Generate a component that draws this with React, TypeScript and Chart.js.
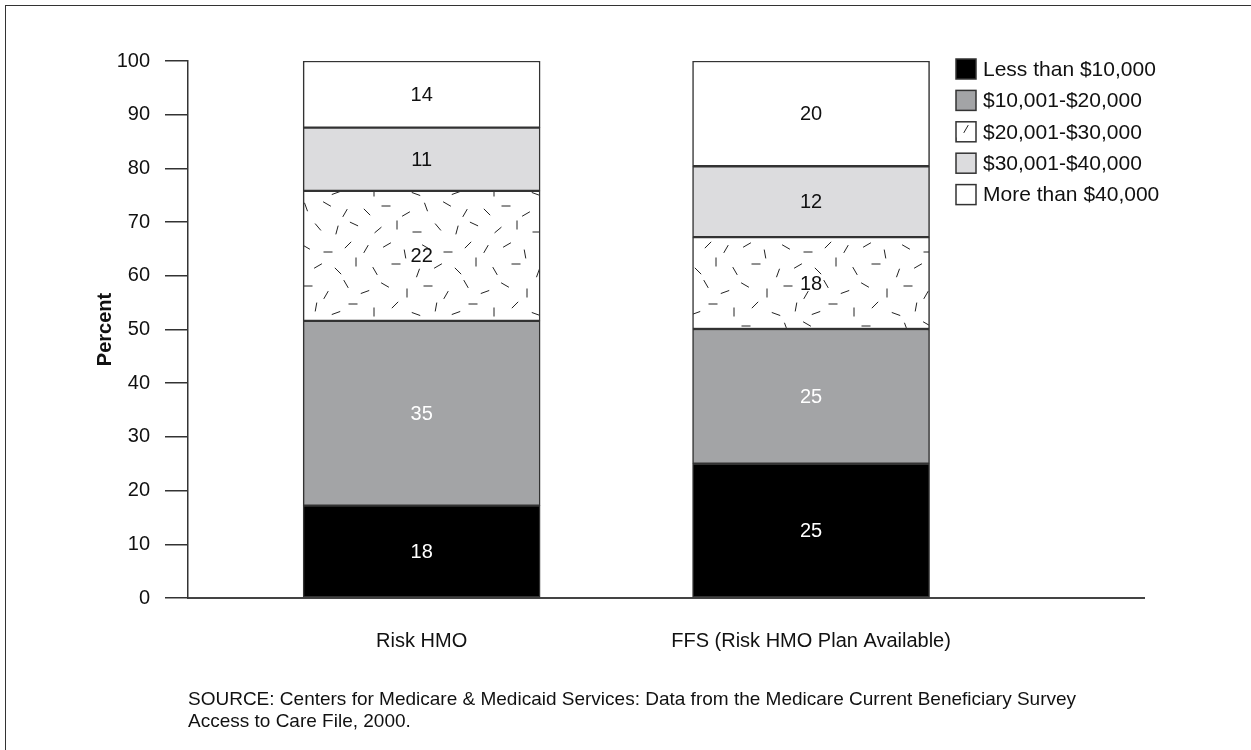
import React, { useEffect, useRef } from "react";
import { Chart, registerables } from "chart.js";

Chart.register(...registerables);

// ---------- data ----------
const categories = ["Risk HMO", "FFS (Risk HMO Plan Available)"];
const seriesNames = [
  "Less than $10,000",
  "$10,001-$20,000",
  "$20,001-$30,000",
  "$30,001-$40,000",
  "More than $40,000",
];
// segment heights (percent) as drawn in the picture: [Risk HMO, FFS]
const lessThan10k = [17.2, 25.0];
const from10kTo20k = [34.4, 25.1];
const from20kTo30k = [24.2, 17.1];
const from30kTo40k = [11.8, 13.2];
const moreThan40k = [12.4, 19.6];
// printed value labels
const lessThan10kLabels = ["18", "25"];
const from10kTo20kLabels = ["35", "25"];
const from20kTo30kLabels = ["22", "18"];
const from30kTo40kLabels = ["11", "12"];
const moreThan40kLabels = ["14", "20"];

const yTickValues = [0, 10, 20, 30, 40, 50, 60, 70, 80, 90, 100];
const yAxisTitle = "Percent";
const sourceLines = [
  "SOURCE: Centers for Medicare & Medicaid Services: Data from the Medicare Current Beneficiary Survey",
  "Access to Care File, 2000.",
];

const FONT = '"Liberation Sans", Arial, Helvetica, sans-serif';

// confetti dash pattern tile (decorative): [cx, cy, angleDeg]
const dashTile: [number, number, number][] = [
  [6, 9, 120], [27, 5, 150], [45, 14, 80], [66, 7, 30], [88, 12, 0], [108, 5, 135],
  [15, 31, 60], [36, 24, 0], [58, 33, 110], [78, 26, 150], [98, 31, 45], [116, 22, 90],
  [5, 52, 160], [25, 45, 30], [47, 53, 90], [68, 46, 0], [86, 55, 120], [106, 44, 60],
  [14, 72, 90], [35, 65, 135], [56, 74, 20], [76, 67, 100], [96, 73, 160], [113, 64, 0],
  [7, 92, 45], [26, 86, 0], [46, 94, 150], [66, 87, 70], [87, 84, 30], [105, 93, 120],
  [18, 110, 140], [37, 105, 90], [57, 112, 0], [78, 107, 50], [97, 110, 105], [114, 104, 25],
];

function makePattern(): CanvasPattern | string {
  const c = document.createElement("canvas");
  c.width = 120;
  c.height = 120;
  const g = c.getContext("2d");
  if (!g) return "#ffffff";
  g.fillStyle = "#ffffff";
  g.fillRect(0, 0, 120, 120);
  g.strokeStyle = "#222222";
  g.lineWidth = 1;
  const half = 4.5;
  for (const [cx, cy, a] of dashTile) {
    const r = (a * Math.PI) / 180;
    const dx = Math.cos(r) * half;
    const dy = Math.sin(r) * half;
    g.beginPath();
    g.moveTo(cx - dx, cy - dy);
    g.lineTo(cx + dx, cy + dy);
    g.stroke();
  }
  const p = g.createPattern(c, "repeat");
  return p || "#ffffff";
}

const valueLabelPlugin = {
  id: "valueLabels",
  afterDatasetsDraw(chart: any) {
    const ctx = chart.ctx;
    ctx.save();
    ctx.font = `20px ${FONT}`;
    ctx.textAlign = "center";
    ctx.textBaseline = "middle";
    chart.data.datasets.forEach((ds: any, i: number) => {
      const meta = chart.getDatasetMeta(i);
      meta.data.forEach((bar: any, j: number) => {
        const { x, y, base } = bar.getProps(["x", "y", "base"], true);
        ctx.fillStyle = ds.labelColor;
        ctx.fillText(ds.valueLabels[j], x, (y + base) / 2 + 1);
      });
    });
    ctx.restore();
  },
};

const legendPlugin = {
  id: "boxLegend",
  afterDraw(chart: any) {
    const ctx = chart.ctx;
    ctx.save();
    chart.data.datasets.forEach((ds: any, i: number) => {
      const x = 956;
      const y = 59 + i * 31.4;
      ctx.fillStyle = ds.backgroundColor;
      ctx.fillRect(x, y, 20, 20);
      ctx.strokeStyle = "#333333";
      ctx.lineWidth = 1.5;
      ctx.strokeRect(x, y, 20, 20);
      ctx.fillStyle = "#111111";
      ctx.font = `21px ${FONT}`;
      ctx.textAlign = "left";
      ctx.textBaseline = "middle";
      ctx.fillText(ds.label, 983, y + 11);
    });
    ctx.restore();
  },
};

export default function App() {
  const canvasRef = useRef<HTMLCanvasElement | null>(null);

  useEffect(() => {
    const canvas = canvasRef.current;
    if (!canvas) return;
    const pattern = makePattern();
    const seriesValues = [lessThan10k, from10kTo20k, from20kTo30k, from30kTo40k, moreThan40k];
    const seriesLabels = [
      lessThan10kLabels,
      from10kTo20kLabels,
      from20kTo30kLabels,
      from30kTo40kLabels,
      moreThan40kLabels,
    ];
    const fills = ["#000000", "#a3a4a6", pattern, "#dcdcde", "#ffffff"];
    const labelColors = ["#ffffff", "#ffffff", "#111111", "#111111", "#111111"];

    const datasets = seriesNames.map((name, s) => ({
      label: name,
      data: seriesValues[s].map((v, i) => ({ x: i, y: v })),
      backgroundColor: fills[s],
      borderColor: "#333333",
      borderWidth: 1.5,
      borderSkipped: false,
      barThickness: 237,
      valueLabels: seriesLabels[s],
      labelColor: labelColors[s],
    }));

    const chart = new Chart(canvas, {
      type: "bar",
      data: { datasets: datasets as any },
      options: {
        animation: false,
        responsive: false,
        events: [],
        layout: { padding: { left: 0, top: 61, right: 107, bottom: 0 } },
        plugins: {
          legend: { display: false },
          tooltip: { enabled: false },
          title: { display: false },
        },
        scales: {
          x: {
            type: "linear",
            stacked: true,
            offset: false,
            min: -0.6,
            max: 1.855,
            grid: { display: false, drawTicks: false },
            border: { display: true, color: "#444444", width: 2 },
            afterBuildTicks: (scale: any) => {
              scale.ticks = categories.map((_, i) => ({ value: i }));
            },
            afterFit: (scale: any) => {
              scale.height = 152;
            },
            ticks: {
              autoSkip: false,
              maxRotation: 0,
              padding: 31,
              color: "#111111",
              font: { family: FONT, size: 20 },
              callback: (v: any) => categories[v as number] ?? "",
            },
          },
          y: {
            stacked: true,
            min: 0,
            max: 100,
            afterBuildTicks: (scale: any) => {
              scale.ticks = yTickValues.map((v) => ({ value: v }));
            },
            afterFit: (scale: any) => {
              scale.width = 188;
            },
            grid: {
              display: true,
              drawOnChartArea: false,
              drawTicks: true,
              tickLength: 23,
              color: "#333333",
              lineWidth: 1.5,
            },
            border: { display: true, color: "#333333", width: 1.5 },
            ticks: {
              padding: 15,
              color: "#111111",
              font: { family: FONT, size: 20 },
            },
            title: {
              display: true,
              text: yAxisTitle,
              color: "#111111",
              font: { family: FONT, size: 20, weight: "bold" },
              padding: { top: 93, bottom: 0 },
            },
          },
        },
      },
      plugins: [valueLabelPlugin, legendPlugin],
    });
    return () => chart.destroy();
  }, []);

  return (
    <div
      style={{
        position: "absolute",
        left: 0,
        top: 0,
        width: 1251,
        height: 750,
        overflow: "hidden",
        background: "#ffffff",
      }}
    >
      <div
        style={{
          position: "absolute",
          left: 5,
          top: 5,
          width: 1400,
          height: 900,
          borderTop: "1.5px solid #333",
          borderLeft: "1.5px solid #333",
        }}
      />
      <canvas
        ref={canvasRef}
        width={1251}
        height={750}
        style={{ position: "absolute", left: 0, top: 0, width: 1251, height: 750 }}
      />
      <div
        style={{
          position: "absolute",
          left: 188,
          top: 688,
          fontFamily: FONT,
          fontSize: 19,
          lineHeight: "22px",
          color: "#111",
          whiteSpace: "nowrap",
        }}
      >
        {sourceLines.map((l, i) => (
          <div key={i}>{l}</div>
        ))}
      </div>
    </div>
  );
}
